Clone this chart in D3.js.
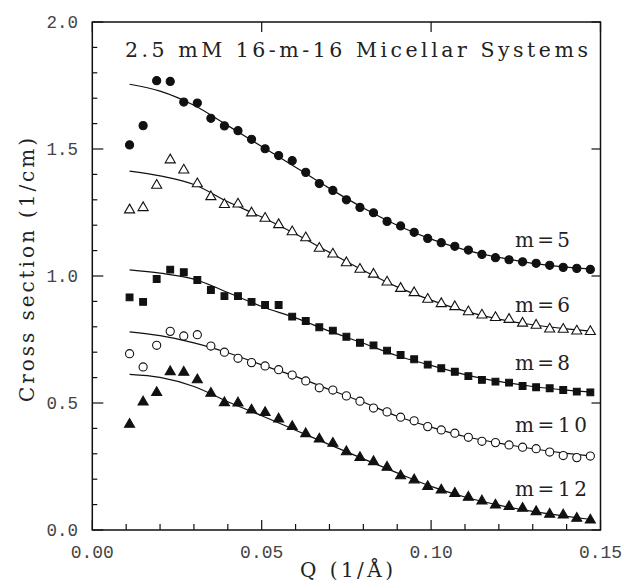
<!DOCTYPE html>
<html><head><meta charset="utf-8">
<script src="https://cdn.jsdelivr.net/npm/d3@7"></script>
<style>body{margin:0;background:#fff}</style>
</head><body>
<svg id="c" width="623" height="583"></svg>
<script>
const qValues = [0.011,0.015,0.019,0.023,0.027,0.031,0.035,0.039,0.043,0.047,0.051,0.055,0.059,0.063,0.067,0.071,0.075,0.079,0.083,0.087,0.091,0.095,0.099,0.103,0.107,0.111,0.115,0.119,0.123,0.127,0.131,0.135,0.139,0.143,0.147];
const m5  = [1.516,1.592,1.769,1.766,1.685,1.681,1.621,1.591,1.572,1.538,1.501,1.474,1.454,1.408,1.364,1.337,1.300,1.270,1.249,1.215,1.197,1.172,1.148,1.131,1.117,1.102,1.085,1.072,1.064,1.056,1.050,1.042,1.034,1.030,1.026];
const m6  = [1.260,1.269,1.357,1.457,1.417,1.363,1.312,1.281,1.283,1.248,1.227,1.202,1.174,1.150,1.109,1.086,1.052,1.026,1.007,0.976,0.951,0.934,0.908,0.891,0.879,0.859,0.846,0.836,0.829,0.814,0.806,0.791,0.790,0.783,0.781];
const m8  = [0.916,0.898,0.988,1.025,1.015,0.984,0.945,0.921,0.921,0.898,0.886,0.886,0.840,0.823,0.798,0.785,0.761,0.737,0.727,0.706,0.689,0.672,0.651,0.637,0.623,0.606,0.591,0.584,0.580,0.567,0.562,0.558,0.551,0.545,0.542];
const m10 = [0.694,0.642,0.727,0.782,0.764,0.769,0.724,0.700,0.676,0.659,0.646,0.631,0.610,0.587,0.560,0.551,0.528,0.507,0.480,0.465,0.444,0.430,0.407,0.394,0.381,0.365,0.349,0.344,0.335,0.326,0.320,0.307,0.293,0.285,0.291];
const m12 = [0.416,0.504,0.541,0.623,0.621,0.591,0.538,0.501,0.500,0.472,0.462,0.437,0.407,0.379,0.358,0.341,0.308,0.285,0.269,0.247,0.213,0.197,0.171,0.157,0.144,0.129,0.114,0.098,0.092,0.085,0.072,0.062,0.059,0.046,0.039];

const fitQ   = [0.011,0.02,0.03,0.04,0.05,0.06,0.07,0.08,0.09,0.10,0.11,0.12,0.13,0.14,0.148];
const fit5   = [1.755,1.728,1.672,1.592,1.510,1.428,1.345,1.268,1.200,1.145,1.103,1.073,1.050,1.035,1.026];
const fit6   = [1.413,1.394,1.360,1.292,1.232,1.165,1.093,1.022,0.957,0.905,0.862,0.830,0.808,0.792,0.782];
const fit8   = [1.024,1.011,0.988,0.935,0.880,0.835,0.783,0.735,0.686,0.648,0.612,0.585,0.565,0.551,0.543];
const fit10  = [0.780,0.765,0.737,0.698,0.650,0.605,0.553,0.503,0.448,0.405,0.368,0.342,0.320,0.302,0.291];
const fit12  = [0.613,0.601,0.565,0.505,0.450,0.393,0.336,0.280,0.225,0.172,0.130,0.098,0.073,0.054,0.040];

const seriesLabels = ["m=5","m=6","m=8","m=10","m=12"];
const labelY = [1.115,0.86,0.63,0.385,0.135];
const xTicks = [0.00,0.05,0.10,0.15];
const yTicks = [0.0,0.5,1.0,1.5,2.0];
const title = "2.5 mM 16-m-16 Micellar Systems";
const xTitle = "Q (1/Å)";
const yTitle = "Cross section (1/cm)";

const svg = d3.select("#c");
const L = 92.3, R = 600.5, T = 22, B = 530;
const x = d3.scaleLinear().domain([0,0.15]).range([L,R]);
const y = d3.scaleLinear().domain([0,2]).range([B,T]);
const ink = "#111";

const line = d3.line().x(d=>x(d[0])).y(d=>y(d[1])).curve(d3.curveMonotoneX);
[fit5,fit6,fit8,fit10,fit12].forEach(f=>{
  svg.append("path").datum(fitQ.map((q,i)=>[q,f[i]])).attr("d",line)
    .attr("fill","none").attr("stroke",ink).attr("stroke-width",1.2);
});

const defs = [
  {v:m5,  type:d3.symbolCircle,   size:52, fill:ink},
  {v:m6,  type:d3.symbolTriangle, size:44, fill:"#fff"},
  {v:m8,  type:d3.symbolSquare,   size:46, fill:ink},
  {v:m10, type:d3.symbolCircle,   size:52, fill:"#fff"},
  {v:m12, type:d3.symbolTriangle, size:44, fill:ink}
];
defs.forEach(s=>{
  const sym = d3.symbol().type(s.type).size(s.size);
  svg.append("g").selectAll("path").data(qValues.map((q,i)=>[q,s.v[i]])).join("path")
    .attr("d",sym).attr("transform",d=>`translate(${x(d[0])},${y(d[1])})`)
    .attr("fill",s.fill).attr("stroke",ink).attr("stroke-width",1.1);
});

svg.append("rect").attr("x",L).attr("y",T).attr("width",R-L).attr("height",B-T)
  .attr("fill","none").attr("stroke",ink).attr("stroke-width",1.5);

const g = svg.append("g").attr("stroke",ink).attr("stroke-width",1.2);
d3.range(0,16).forEach(k=>{
  const v = k/100, major = k%5===0;
  g.append("line").attr("x1",x(v)).attr("x2",x(v)).attr("y1",B).attr("y2",B-(major?10:6));
  if(major) g.append("line").attr("x1",x(v)).attr("x2",x(v)).attr("y1",T).attr("y2",T+10);
});
d3.range(0,21).forEach(k=>{
  const v = k/10, major = k%5===0;
  g.append("line").attr("y1",y(v)).attr("y2",y(v)).attr("x1",L).attr("x2",L+(major?11:5));
  if(major) g.append("line").attr("y1",y(v)).attr("y2",y(v)).attr("x1",R).attr("x2",R-9);
});

const mono = "'Liberation Mono', monospace";
const serif = "'DejaVu Serif', serif";
svg.append("g").selectAll("text").data(xTicks).join("text")
  .attr("x",d=>x(d)).attr("y",558).attr("text-anchor","middle")
  .attr("font-family",mono).attr("font-size",18).attr("fill","#444")
  .text(d=>d3.format(".2f")(d));
svg.append("g").selectAll("text").data(yTicks).join("text")
  .attr("x",78).attr("y",d=>y(d)).attr("dy","0.35em").attr("text-anchor","end")
  .attr("font-family",mono).attr("font-size",17.5).attr("fill","#444")
  .text(d=>d3.format(".1f")(d));

svg.append("text").attr("x",125).attr("y",57).attr("font-family",serif).attr("font-size",20.5)
  .attr("textLength",463).attr("lengthAdjust","spacing").attr("fill","#222").text(title);
svg.append("text").attr("x",300).attr("y",577)
  .attr("font-family",serif).attr("font-size",20).attr("textLength",93).attr("lengthAdjust","spacing")
  .attr("fill","#222").text(xTitle);
svg.append("text").attr("transform","translate(34,270) rotate(-90)").attr("text-anchor","middle")
  .attr("font-family",serif).attr("font-size",20).attr("textLength",264).attr("lengthAdjust","spacing")
  .attr("fill","#222").text(yTitle);

svg.append("g").selectAll("text").data(seriesLabels).join("text")
  .attr("x",515).attr("y",(d,i)=>y(labelY[i])).attr("font-family",serif).attr("font-size",20)
  .attr("textLength",d=>d.length>3?72:55).attr("lengthAdjust","spacing")
  .attr("fill","#222").text(d=>d);
</script>
</body></html>
